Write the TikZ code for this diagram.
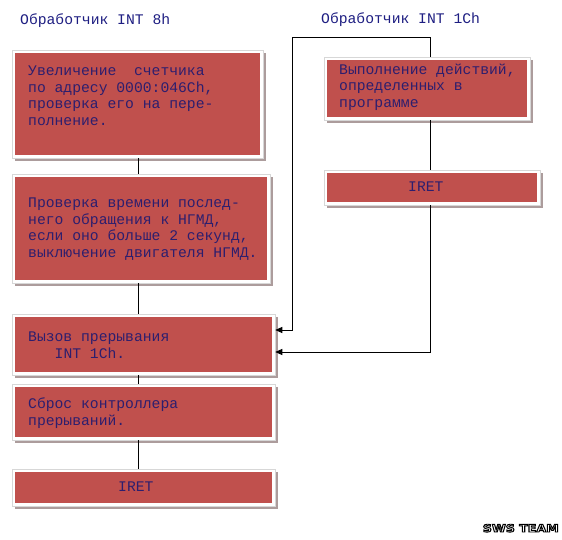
\documentclass[tikz,border=0pt]{standalone}
\usepackage{fontspec}
\setmainfont{Liberation Mono}
\setsansfont{DejaVu Sans}
\usetikzlibrary{arrows.meta,shadows}
\definecolor{boxred}{RGB}{192,80,77}
\definecolor{txtblue}{RGB}{45,30,110}
\definecolor{ttlblue}{RGB}{30,30,130}
\definecolor{shadowgrey}{RGB}{172,156,156}
\definecolor{framegrey}{RGB}{215,215,215}
\begin{document}
\begin{tikzpicture}[x=1pt,y=-1pt,
  frame/.style={rectangle, inner sep=0pt, draw=framegrey, line width=0.5pt, fill=white,
    drop shadow={shadow xshift=2.5pt, shadow yshift=-2.5pt, fill=shadowgrey, opacity=1},
    path picture={\fill[boxred] ([xshift=3pt,yshift=-3pt]path picture bounding box.north west)
      rectangle ([xshift=-3pt,yshift=3pt]path picture bounding box.south east);}},
  txt/.style={font=\fontsize{14.7}{16.7}\selectfont, text=txtblue, align=left, inner sep=0pt, anchor=base west},
  ttl/.style={font=\fontsize{14.7}{16.7}\selectfont, text=ttlblue, inner sep=0pt, anchor=base west},
  link/.style={draw=black, line width=1pt},
  arr/.style={link, -{Triangle[length=7pt,width=6pt]}},
  logo/.style={font=\sffamily\bfseries\fontsize{10.5}{10.5}\selectfont, text=white, inner sep=0pt, xscale=1.2, anchor=base east}]
\useasboundingbox[fill=white] (0,0) rectangle (562,539);

% titles
\node[ttl] (h1) at (20,24) {Обработчик INT 8h};
\node[ttl] (h2) at (321,23) {Обработчик INT 1Ch};

% boxes
\node[frame, minimum width=251pt, minimum height=108pt] (B1) at (137.5,104) {};
\node[frame, minimum width=258pt, minimum height=109pt] (B2) at (141,228.5) {};
\node[frame, minimum width=263pt, minimum height=61pt] (B3) at (143.5,344.5) {};
\node[frame, minimum width=263pt, minimum height=56pt] (B4) at (143.5,412) {};
\node[frame, minimum width=263pt, minimum height=37pt] (B5) at (143.5,487.5) {};
\node[frame, minimum width=206pt, minimum height=63pt] (B6) at (427,88.5) {};
\node[frame, minimum width=216pt, minimum height=35pt] (B7) at (432,187.5) {};

% texts (anchored at the baseline of the last line)
\node[txt] (t1) at (28,125.5) {Увеличение\ \ счетчика\\по адресу 0000:046Ch,\\проверка его на пере-\\полнение.};
\node[txt] (t2) at (28,257.5) {Проверка времени послед-\\него обращения к НГМД,\\если оно больше 2 секунд,\\выключение двигателя НГМД.};
\node[txt] (t3) at (28,358) {Вызов прерывания\\\hspace*{26.5pt}INT 1Ch.};
\node[txt] (t4) at (28,425) {Сброс контроллера\\прерываний.};
\node[txt] (t5) at (118,491.5) {IRET};
\node[txt] (t6) at (339,107.5) {Выполнение действий,\\определенных в\\программе};
\node[txt] (t7) at (408,191.5) {IRET};

% connectors
\coordinate (lx) at (138,0);
\coordinate (rx) at (430,0);
\coordinate (lt) at (292,37);
\coordinate (lb) at (292,330);
\coordinate (rb) at (430,352);
\draw[link] (lx |- B1.south) -- (lx |- B2.north);
\draw[link] (lx |- B2.south) -- (lx |- B3.north);
\draw[link] (lx |- B3.south) -- (lx |- B4.north);
\draw[link] (lx |- B4.south) -- (lx |- B5.north);
\draw[link] (rx |- B6.south) -- (rx |- B7.north);
\draw[arr] (rx |- B6.north) |- (lt) -- (lb) -- (lb -| B3.east);
\draw[arr] (rx |- B7.south) -- (rb) -- (rb -| B3.east);

% logo
\node[logo] (sws) at (559,532) {\special{pdf:literal direct 0 G 0.9 w 2 Tr}SWS TEAM\special{pdf:literal direct 0 Tr}};
\end{tikzpicture}
\end{document}
